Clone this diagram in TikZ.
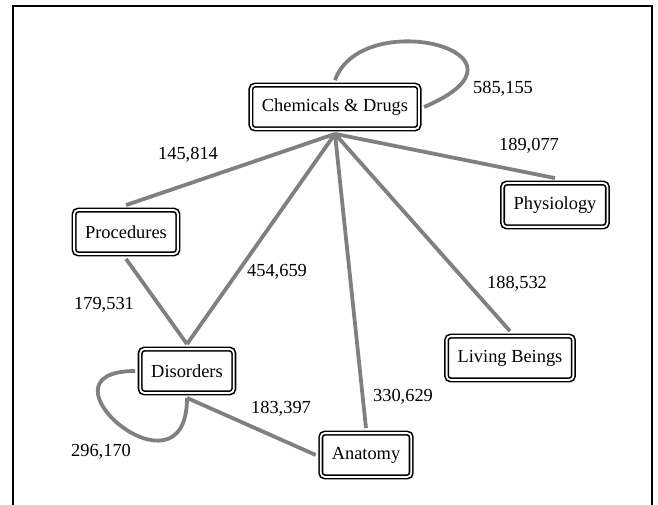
\documentclass[tikz,border=0pt]{standalone}
\usepackage{fontspec}
\setmainfont{Liberation Serif}
\definecolor{linkgray}{RGB}{128,128,128}
\begin{document}
\begin{tikzpicture}[x=1pt,y=1pt,
  cat/.style={draw, double, line width=1.6pt, double distance=1.8pt, rounded corners=4pt, inner xsep=11pt, minimum height=43.8pt, outer sep=5pt, font=\fontsize{18.4}{22}\selectfont},
  link/.style={linkgray, line width=3.8pt},
  num/.style={font=\fontsize{18.4}{22}\selectfont}]
\useasboundingbox (0,0) rectangle (658,504);
\draw[line width=2pt] (12.5,-5) -- (12.5,497.5) -- (652,497.5) -- (652,-5);
% categories
\node[cat] (chem) at (335,397){Chemicals \& Drugs};
\node[cat] (proc) at (126,272){Procedures};
\node[cat] (dis) at (187,133){Disorders};
\node[cat] (anat) at (366,49){Anatomy};
\node[cat] (phys) at (555,299){Physiology};
\node[cat] (liv) at (510,146){Living Beings};
% links
\draw[link](chem.north) to[out=70,in=23,out distance=80pt,in distance=138pt] (chem.east);
\draw[link](chem.south) -- (proc.north);
\draw[link](chem.south) -- (dis.north);
\draw[link](chem.south) -- (anat.north);
\draw[link](chem.south) -- (liv.north);
\draw[link](chem.south) -- (phys.north);
\draw[link](proc.south) -- (dis.north);
\draw[link](dis.south) -- (anat.west);
\draw[link](dis.west) to[out=180,in=-90,out distance=108pt,in distance=110pt] (dis.south);
% counts
\node[num] (wcc) at (503,415){585,155};
\node[num] (wcp) at (188,349){145,814};
\node[num] (wcd) at (277,232){454,659};
\node[num] (wca) at (403,107){330,629};
\node[num] (wcl) at (517,220){188,532};
\node[num] (wcy) at (529,358){189,077};
\node[num] (wpd) at (104,199){179,531};
\node[num] (wda) at (281,95){183,397};
\node[num] (wdd) at (101,52){296,170};
\end{tikzpicture}
\end{document}
